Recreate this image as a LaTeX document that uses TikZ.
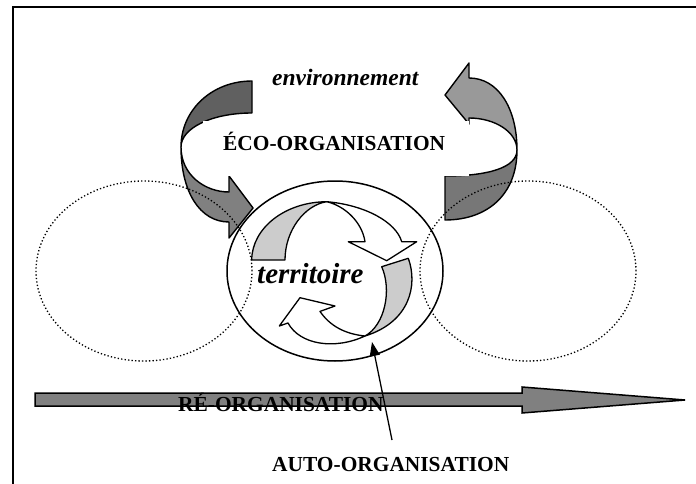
\documentclass[tikz,border=0pt]{standalone}
\usepackage{fontspec}
\setmainfont{Liberation Serif}
\usetikzlibrary{arrows.meta,shapes.geometric}
\definecolor{ltail}{HTML}{606060}
\definecolor{lhead}{HTML}{808080}
\definecolor{rhead}{HTML}{999999}
\definecolor{rtail}{HTML}{777777}
\definecolor{ingray}{HTML}{CCCCCC}
\definecolor{bargray}{HTML}{808080}
\begin{document}
\begin{tikzpicture}[x=1pt,y=-1pt,
  ribbon/.style={draw=black,line width=1.4pt,line join=round},
  inribbon/.style={draw=black,line width=1.3pt,line join=round},
  dotring/.style={ellipse,draw=black,line width=1.3pt,dash pattern=on 1.3pt off 2.2pt,minimum width=216pt,minimum height=180pt,inner sep=0pt},
  solidring/.style={ellipse,draw=black,line width=1.5pt,minimum width=216pt,minimum height=180pt,inner sep=0pt},
  lbl/.style={inner sep=0pt,anchor=base west,font=\bfseries\fontsize{21.4}{24}\selectfont},
  ilbl/.style={inner sep=0pt,anchor=base west}
]
\useasboundingbox (0,0) rectangle (696,484);
\fill[white] (0,0) rectangle (696,484);
% frame
\draw[line width=2pt] (13,484) -- (13,7) -- (696,7);

% left curved ribbon arrow
\path[ribbon,fill=ltail] (252,81) .. controls (212,81) and (181,110) .. (181,147)
   .. controls (181,128) and (212,113) .. (252,113) -- cycle;
\path[ribbon,fill=lhead] (181,147) .. controls (181,192) and (200,222) .. (229,222)
   -- (229,238) -- (253,208) -- (229,176) -- (229,192)
   .. controls (205,192) and (181,175) .. (181,147) -- cycle;

% right curved ribbon arrow
\path[ribbon,fill=rhead] (517,150) .. controls (517,108) and (498,78) .. (469,78)
   -- (469,63) -- (445,95) -- (469,124) -- (469,118)
   .. controls (495,118) and (517,132) .. (517,150) -- cycle;
\path[ribbon,fill=rtail] (517,150) .. controls (517,195) and (487,220) .. (445,220)
   -- (445,176) .. controls (487,176) and (517,168) .. (517,150) -- cycle;

% white box behind eco-organisation
\node[fill=white,draw=none,minimum width=266pt,minimum height=55pt,inner sep=0pt] (ecobox) at (336,148.5) {};
\node[ilbl,font=\bfseries\itshape\fontsize{23.5}{26}\selectfont] (env) at (272,86) {environnement};
\node[lbl] (eco) at (223,150) {ÉCO-ORGANISATION};

% central territory ellipse
\node[solidring] (terr) at (335,271) {};

% inner arrow A (top, clockwise)
\path[inribbon,fill=ingray] (251.7,260) .. controls (252,228) and (285,202) .. (326.7,201.7)
   .. controls (305,205) and (285,230) .. (285,260) -- cycle;
\path[inribbon,fill=white] (326.7,201.7) .. controls (365,205) and (396,222) .. (401.7,241.7)
   -- (416.7,241.7) -- (386.7,260.7) -- (348.3,241.7) -- (365,241.7)
   .. controls (362,222) and (345,206) .. (326.7,201.7) -- cycle;
% inner arrow B (bottom)
\path[inribbon,fill=ingray] (381.7,266.7) -- (408.3,258.3) .. controls (418,285) and (410,322) .. (365,336)
   .. controls (385,325) and (392,290) .. (381.7,266.7) -- cycle;
\path[inribbon,fill=white] (365,336) .. controls (335,350) and (300,345) .. (288,323)
   -- (279.3,326) -- (300,297.7) -- (335,306) -- (320,311.4)
   .. controls (330,326) and (345,334) .. (365,336) -- cycle;

% dotted neighbour ellipses
\node[dotring] (leftring) at (144,271) {};
\node[dotring] (rightring) at (528,271) {};

\node[ilbl,font=\bfseries\itshape\fontsize{29}{32}\selectfont] (terrlbl) at (257,283) {territoire};

% re-organisation arrow
\path[draw=black,fill=bargray,line width=1.5pt,line join=miter]
  (35,393) -- (522,393) -- (522,387) -- (685,400) -- (522,413) -- (522,406) -- (35,406) -- cycle;
\node[lbl] (reorg) at (178,411) {RÉ-ORGANISATION};

% auto-organisation pointer
\coordinate (autostart) at (392,440);
\coordinate (autotip) at (372,342);
\draw[line width=1.3pt,-{Triangle[length=14pt,width=10pt]}] (autostart) -- (autotip);
\node[lbl] (auto) at (272,471) {AUTO-ORGANISATION};
\end{tikzpicture}
\end{document}
